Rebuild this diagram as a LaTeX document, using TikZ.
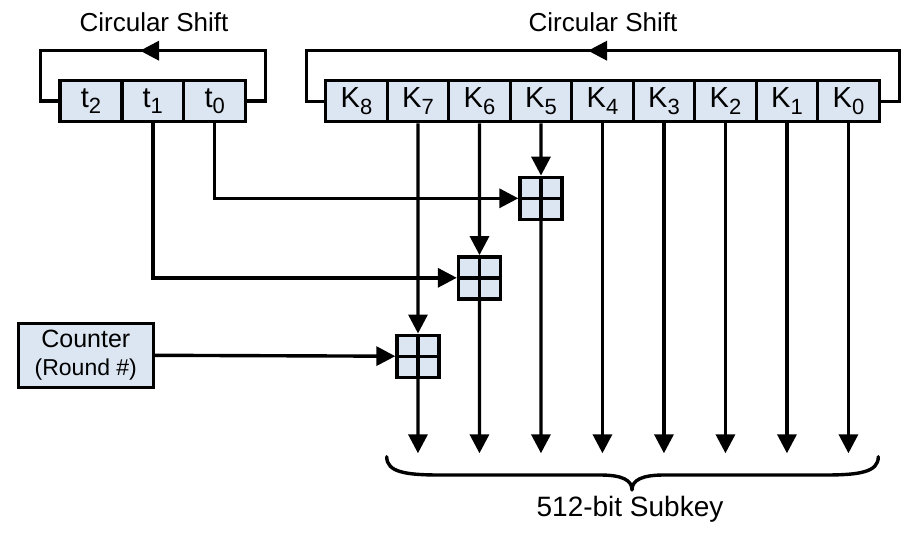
\documentclass[tikz,border=0pt]{standalone}
\usepackage{fontspec}
\setmainfont{Liberation Sans}
\usetikzlibrary{arrows.meta}
\definecolor{boxfill}{RGB}{220,230,242}
\tikzset{
  regbox/.style={draw, fill=boxfill, minimum width=61.5pt, minimum height=41pt, inner sep=0pt, font=\fontsize{29}{29}\selectfont},
  adder/.style={draw, fill=boxfill, minimum width=42pt, minimum height=42pt, inner sep=0pt,
    path picture={\draw (path picture bounding box.north) -- (path picture bounding box.south);
                  \draw (path picture bounding box.west) -- (path picture bounding box.east);}},
  arr/.style={-{Triangle[length=19pt,width=19pt]}},
  captxt/.style={font=\fontsize{26}{26}\selectfont},
}
\newcommand{\sbs}[1]{\raisebox{-6.5pt}{\fontsize{22}{22}\selectfont #1}}
\begin{document}
\begin{tikzpicture}[x=1pt,y=-1pt,line width=3.4pt]
\useasboundingbox (0,0) rectangle (910,536);

% captions
\node[captxt] (cs1) at (154,22) {Circular Shift};
\node[captxt] (cs2) at (603,22) {Circular Shift};

% t registers
\node[regbox, minimum width=61.9pt] (t2) at (91,101) {t\sbs{2}};
\node[regbox, minimum width=61.9pt] (t1) at (152.8,101) {t\sbs{1}};
\node[regbox, minimum width=61.9pt] (t0) at (214.7,101) {t\sbs{0}};

% K registers
\foreach \i/\k in {0/8,1/7,2/6,3/5,4/4,5/3,6/2,7/1,8/0}{
  \node[regbox] (K\k) at ({356.45+61.5*\i},101.2) {K\sbs{\k}};
}

% small loop
\coordinate (sTR) at (265.7,50.7);
\coordinate (sTL) at (40.7,50.7);
\coordinate (sArr) at (140,50.7);
\draw (t0.east) -| (sTR) -- (sTL) |- (t2.west);
\draw[arr] (sTR) -- (sArr);

% big loop
\coordinate (bTR) at (899.3,50.7);
\coordinate (bTL) at (306.7,50.7);
\coordinate (bArr) at (588,50.7);
\draw (K0.east) -| (bTR) -- (bTL) |- (K8.west);
\draw[arr] (bTR) -- (bArr);

% adders
\node[adder] (A5) at (541,198.3) {};
\node[adder] (A6) at (479.5,277.8) {};
\node[adder] (A7) at (418,356.2) {};

% counter
\node[draw, fill=boxfill, minimum width=135pt, minimum height=64pt, inner sep=0pt, align=center,
      font=\fontsize{25}{27.5}\selectfont] (ctr) at (85.8,355.3)
      {Counter\\{\fontsize{23}{23}\selectfont (Round \#)}};

% connections into adders
\draw[arr] (K5.south) -- (A5.north);
\draw[arr] (K6.south) -- (A6.north);
\draw[arr] (K7.south) -- (A7.north);
\draw[arr] (t0.south) |- (A5.west);
\draw[arr] (t1.south) |- (A6.west);
\draw[arr] (ctr.east) -- (A7.west);

% outputs
\foreach \k in {0,1,2,3,4,5,6,7}{
  \coordinate (o\k) at (K\k.south |- 0,453.3);
}
\draw[arr] (A7.south) -- (o7);
\draw[arr] (A6.south) -- (o6);
\draw[arr] (A5.south) -- (o5);
\foreach \k in {0,1,2,3,4}{
  \draw[arr] (K\k.south) -- (o\k);
}

% brace
\draw[line join=round, line cap=round] (386.7,456.7) .. controls (386.7,472) and (405,475) .. (440,475) -- (600,475)
  .. controls (622,475) and (632,480) .. (632,490)
  .. controls (632,480) and (642,475) .. (664,475) -- (825,475)
  .. controls (860,475) and (878.3,472) .. (878.3,456.7);
\node[font=\fontsize{28}{28}\selectfont] (sub) at (630,509) {512-bit Subkey};
\end{tikzpicture}
\end{document}
